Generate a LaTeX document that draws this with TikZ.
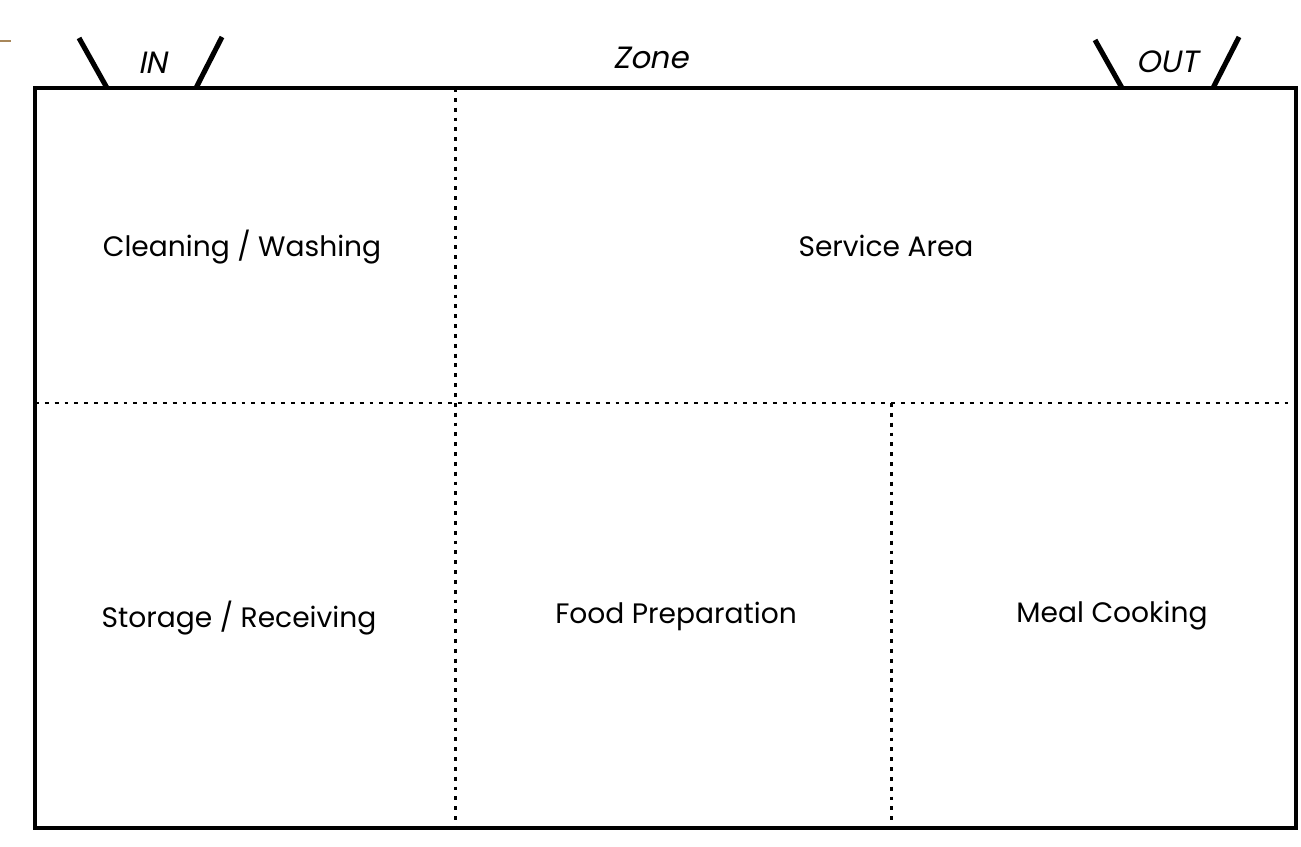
\documentclass[tikz,border=0pt]{standalone}
\usepackage{fontspec}
\setmainfont{Poppins}
\newfontfamily\signfont[FakeSlant=0.2]{Poppins}
\definecolor{tan}{HTML}{A8875A}
\tikzset{
    wall/.style={line width=2.3pt},
    door/.style={line width=2.9pt},
    part/.style={line width=1.7pt, dash pattern=on 2.2pt off 3.4pt},
    room/.style={font=\fontsize{16}{19}\selectfont},
    sign/.style={font=\fontsize{17.5}{20}\selectfont\signfont}
}
\begin{document}
\begin{tikzpicture}[x=0.02cm,y=-0.02cm]
    \useasboundingbox (0,0) rectangle (1301,847);
    \fill[white] (0,0) rectangle (1301,847);
    \draw[tan, line width=1pt] (0,41) -- (11,41);
    % partitions
    \draw[part] (455,88) -- (455,828);
    \draw[part] (35,403) -- (1296,403);
    \draw[part] (891,403) -- (891,828);
    % outer wall
    \draw[wall] (35,88) rectangle (1296,828);
    % doors
    \draw[door] (79,38) -- (107,88);
    \draw[door] (222,37) -- (196,88);
    \draw[door] (1095,40) -- (1122,88);
    \draw[door] (1239,37) -- (1213,88);
    \node[sign] (in) at (153,63) {IN};
    \node[sign] (zone) at (651,58) {Zone};
    \node[sign] (out) at (1167,62) {OUT};
    % rooms
    \node[room] (clean) at (242,247) {Cleaning / Washing};
    \node[room] (serve) at (886,246) {Service Area};
    \node[room] (store) at (239,618) {Storage / Receiving};
    \node[room] (prep) at (676,616) {Food Preparation};
    \node[room] (cook) at (1112,616) {Meal Cooking};
\end{tikzpicture}
\end{document}
